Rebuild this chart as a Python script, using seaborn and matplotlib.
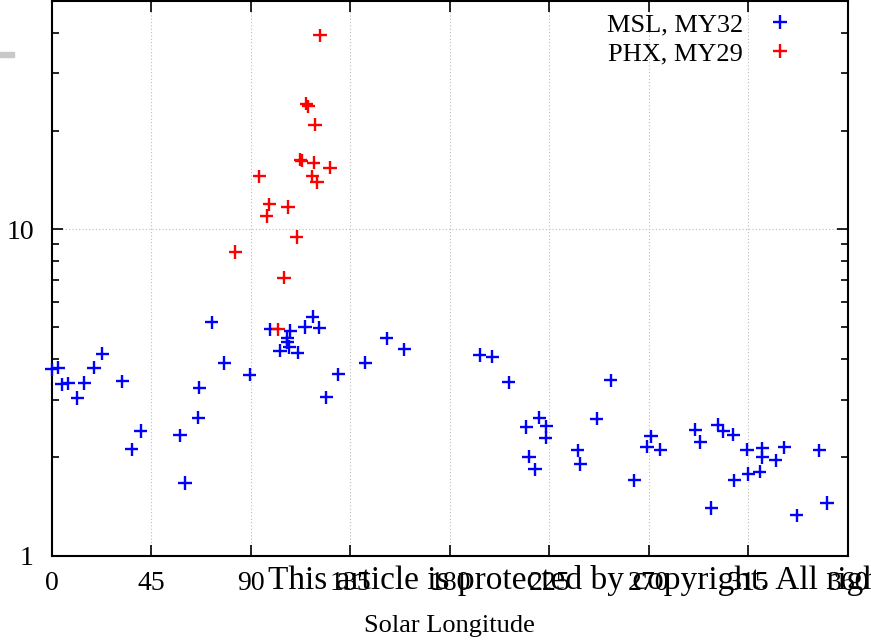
import numpy as np
import pandas as pd
import matplotlib
matplotlib.use("Agg")
import matplotlib.pyplot as plt
from matplotlib.lines import Line2D
from matplotlib.patches import Rectangle
from matplotlib.ticker import FixedLocator, NullFormatter, FixedFormatter
import seaborn as sns

# ---- data ----
msl_ls = [0.0, 2.9, 4.5, 7.5, 11.5, 14.6, 19.1, 22.8, 31.9, 36.1, 40.2, 58.0, 60.2,
          66.3, 66.6, 72.3, 77.9, 89.5, 98.7, 107.9, 106.5, 106.5, 107.4, 103.2, 111.2,
          114.5, 118.0, 121.0, 124.2, 129.6, 141.7, 151.5, 159.3, 193.4, 199.2, 206.5,
          214.5, 220.4, 223.5, 223.4, 215.8, 218.5, 237.7, 239.0, 246.3, 252.8, 263.3,
          270.9, 269.1, 275.1, 290.9, 293.2, 298.1, 301.0, 303.7, 308.2, 308.5, 314.3,
          315.0, 320.0, 321.3, 321.3, 327.4, 331.2, 336.9, 347.1, 350.5]
msl_val = [3.72, 3.76, 3.35, 3.37, 3.04, 3.38, 3.76, 4.16, 3.42, 2.12, 2.41, 2.34, 1.67,
           2.65, 3.27, 5.18, 3.89, 3.58, 4.93, 4.89, 4.64, 4.51, 4.36, 4.24, 4.19,
           5.02, 5.39, 4.99, 3.06, 3.59, 3.90, 4.63, 4.29, 4.12, 4.07, 3.40,
           2.48, 2.65, 2.49, 2.30, 2.01, 1.84, 2.10, 1.91, 2.63, 3.45, 1.70,
           2.32, 2.16, 2.11, 2.43, 2.23, 1.40, 2.52, 2.41, 2.35, 1.70, 2.11,
           1.78, 1.81, 2.13, 2.00, 1.96, 2.15, 1.33, 2.10, 1.45]

phx_ls = [102.4, 82.9, 105.0, 110.7, 97.1, 98.4, 106.8, 93.8, 112.3, 113.0, 118.4,
          125.8, 117.7, 119.9, 119.0, 115.0, 116.0, 121.3]
phx_val = [4.93, 8.52, 7.11, 9.47, 10.97, 11.93, 11.70, 14.53, 16.32, 16.2, 15.98,
           15.45, 14.53, 13.93, 20.92, 24.26, 23.80, 39.3]

series_names = ["MSL, MY32", "PHX, MY29"]
series_colors = ["#0000ff", "#ff0000"]
x_ticks = [0, 45, 90, 135, 180, 225, 270, 315, 360]
y_major = [1, 10]
y_minor = [2, 3, 4, 5, 6, 7, 8, 9, 20, 30, 40]
x_label = "Solar Longitude"
watermark = "This article is protected by copyright. All rights reserved."

df = pd.concat([
    pd.DataFrame({"Ls": msl_ls, "value": msl_val, "series": series_names[0]}),
    pd.DataFrame({"Ls": phx_ls, "value": phx_val, "series": series_names[1]}),
], ignore_index=True)

sns.set_style("ticks")
plt.rcParams["font.family"] = ["Liberation Serif", "DejaVu Serif"]
plt.rcParams["text.color"] = "black"
plt.rcParams["axes.labelcolor"] = "black"
plt.rcParams["xtick.color"] = "black"
plt.rcParams["ytick.color"] = "black"

fig = plt.figure(figsize=(8.71, 6.40), dpi=100)
ax = fig.add_axes([51.8 / 871, 1 - 555.7 / 640, (848 - 51.8) / 871, (555.7 - 1) / 640])

palette = dict(zip(series_names, series_colors))
sns.scatterplot(data=df, x="Ls", y="value", hue="series", palette=palette,
                marker="+", s=90, linewidth=1.7, legend=False, ax=ax, zorder=3,
                clip_on=False)

ax.set_yscale("log")
ax.set_xlim(0, 360)
ax.set_ylim(1, 50)

ax.xaxis.set_major_locator(FixedLocator(x_ticks))
ax.set_xticklabels([str(t) for t in x_ticks])
ax.yaxis.set_major_locator(FixedLocator(y_major))
ax.yaxis.set_major_formatter(FixedFormatter([str(t) for t in y_major]))
ax.yaxis.set_minor_locator(FixedLocator(y_minor))
ax.yaxis.set_minor_formatter(NullFormatter())
ax.xaxis.set_minor_locator(FixedLocator([]))

ax.tick_params(axis="both", which="major", direction="in", length=8, width=1.2,
               top=True, right=True, labelsize=20, colors="black")
ax.tick_params(axis="y", which="minor", direction="in", length=5, width=1.2,
               left=True, right=True, colors="black")
ax.tick_params(axis="x", pad=11)
ax.tick_params(axis="y", pad=13)

for sp in ax.spines.values():
    sp.set_visible(True)
    sp.set_color("black")
    sp.set_linewidth(1.5)

ax.grid(True, which="major", axis="both", color="#bbbbbb", linestyle=(0, (1, 2)), linewidth=0.8)
ax.set_axisbelow(True)

ax.set_xlabel(x_label, fontsize=19, labelpad=14, color="black")
ax.set_ylabel("")

handles = [Line2D([], [], linestyle="none", marker="+", color=c, markersize=10,
                  markeredgewidth=1.7) for c in series_colors]
ax.legend(handles, series_names, loc="upper right", bbox_to_anchor=(0.931, 0.978),
          frameon=False, markerfirst=False, fontsize=19, handlelength=1.0,
          handletextpad=0.9, labelspacing=0.2, borderpad=0, borderaxespad=0,
          labelcolor="black")

fig.text(268 / 871, 1 - 589 / 640, watermark, fontsize=24, va="baseline", ha="left",
         color="black", family=["Liberation Serif", "DejaVu Serif"])
fig.add_artist(Rectangle((0, 1 - 57 / 640), 14 / 871, 5 / 640, color="#c8c8c8",
                         transform=fig.transFigure))

fig.savefig("out.png", dpi=100)
